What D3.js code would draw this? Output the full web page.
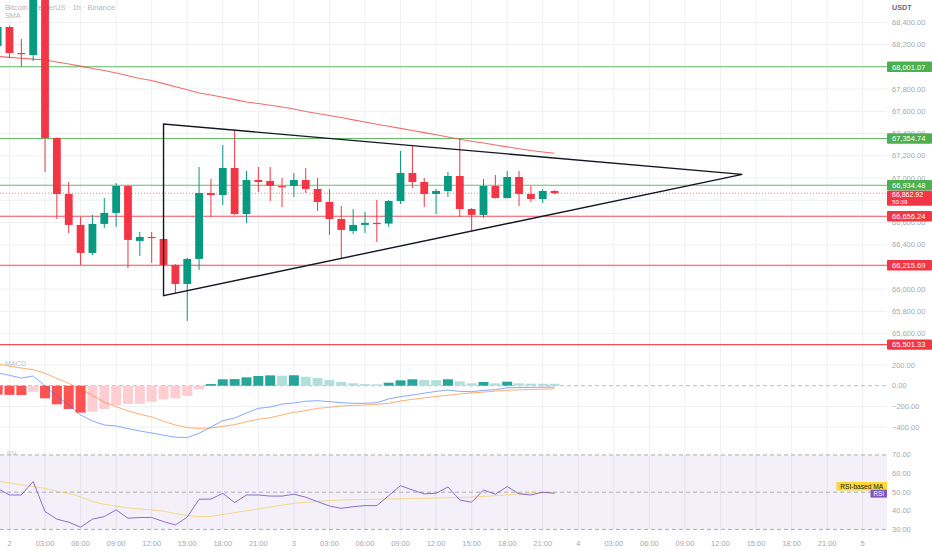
<!DOCTYPE html>
<html><head><meta charset="utf-8">
<script src="https://cdn.jsdelivr.net/npm/d3@7"></script>
<style>body{margin:0;background:#fff}svg{display:block;font-family:"Liberation Sans",Arial,sans-serif}</style>
</head><body><svg id="c" width="932" height="550"></svg>
<script>
// ---------- DATA (hours counted from day "2" 00:00) ----------
const hours = [-1,0,1,2,3,4,5,6,7,8,9,10,11,12,13,14,15,16,17,18,19,20,21,22,23,24,25,26,27,28,29,30,31,32,33,34,35,36,37,38,39,40,41,42,43,44,45,46];
const open  = [68187,68358,68124,68106,68680,67360,66856,66578,66326,66587,66686,66928,66434,66470,66452,66218,66047,66272,66865,66847,67090,66676,66982,66973,66928,66928,66982,66901,66784,66631,66524,66578,66596,66590,66793,67045,66964,66856,66883,67018,66721,66668,66928,66820,67009,66856,66811,66883];
const high  = [68380,68370,68250,68750,68720,67365,66964,66650,66668,66820,66955,66935,66515,66515,66506,66225,66281,67099,66991,67297,67432,67063,67099,67099,67000,67045,67090,67000,66901,66748,66721,66694,66802,66802,67243,67288,67000,66901,67054,67360,66730,66991,67027,67063,67063,66928,66901,66890];
const low   = [68150,68079,67998,68052,67054,66631,66506,66218,66308,66551,66560,66191,66299,66236,66210,65966,65714,66173,66650,66757,66668,66596,66874,66793,66739,66829,66865,66703,66488,66281,66497,66506,66425,66560,66766,66910,66739,66676,66829,66650,66524,66641,66815,66815,66748,66784,66775,66855];
const close = [68358,68124,68115,68680,67360,66856,66578,66326,66587,66686,66928,66443,66470,66461,66218,66047,66272,66865,66847,67090,66676,66982,66964,66928,66920,66982,66901,66784,66631,66533,66578,66596,66590,66793,67045,66964,66856,66883,67018,66721,66668,66928,66820,67009,66856,66811,66883,66862.92];
const sma   = [68093,68085,68077,68069,68061,68044,68025,68006,67985,67967,67944,67919,67895,67877,67849,67821,67793,67764,67746,67726,67705,67684,67670,67655,67639,67621,67598,67580,67562,67544,67523,67504,67484,67465,67446,67427,67408,67389,67369,67349,67331,67315,67297,67280,67263,67247,67234,67222];

const macdLine = [125,100,74,94,-3,-103,-186,-283,-341,-380,-389,-415,-438,-457,-479,-498,-502,-460,-399,-338,-312,-264,-219,-206,-177,-167,-150,-145,-154,-164,-170,-170,-164,-128,-106,-90,-72,-55,-42,-55,-58,-45,-38,-20,-18,-16,-15,-14];
const signalLine = [210,190,171,155,120,71,23,-32,-93,-160,-203,-244,-276,-302,-344,-380,-406,-412,-409,-393,-377,-348,-325,-309,-283,-257,-241,-219,-209,-196,-190,-186,-180,-170,-148,-132,-118,-104,-92,-80,-70,-62,-52,-44,-40,-36,-33,-31];
const histogram = [-86,-89,-90,-58,-122,-180,-225,-260,-251,-225,-186,-177,-176,-155,-132,-122,-99,-35,16,62,64,81,94,100,97,101,87,74,55,36,23,16,13,29,52,62,55,54,62,42,23,36,23,39,23,20,19,18];

const rsi   = [52,48.5,48.5,55.7,39.6,35.5,33.9,31.2,35.5,36.9,40.5,36,36.4,36.4,34.2,32.4,36.6,46.2,46.3,49.4,44.4,48.5,48.5,47.9,47.9,48.9,47.3,44.9,42.6,41.3,42.2,42.8,42.8,48.1,53.5,51.2,49.1,49.4,52.8,45.8,44.6,51.2,48.9,53.0,49.1,48.5,50.0,49.4];
const rsiMA = [56,55,54,53,52,50.5,49.4,47.5,45,43.5,42.5,41.6,41,40.5,39.8,38.5,37.5,36.8,37,38,39,40,41,42,43,44,44.6,45,45.5,45.8,46,46.1,46.2,46.3,46.5,46.6,46.7,46.8,47,47.1,47.3,47.7,48.1,48.6,49.1,49.6,49.7,49.7];

const tickHours  = [0,3,6,9,12,15,18,21,24,27,30,33,36,39,42,45,48,51,54,57,60,63,66,69,72];
const tickLabels = ["2","03:00","06:00","09:00","12:00","15:00","18:00","21:00","3","03:00","06:00","09:00","12:00","15:00","18:00","21:00","4","03:00","06:00","09:00","12:00","15:00","18:00","21:00","5"];
const priceTicks = [65600,65800,66000,66200,66400,66600,66800,67000,67200,67400,67600,67800,68000,68200,68400];
const macdTicks = [200,0,-200,-400];
const rsiTicks = [70,60,50,40,30];

const levelValues = [68001.07,67354.74,66934.48,66656.24,66215.69,65501.33];
const levelKinds  = ["sup","sup","sup","res","res","res"];
const lastPrice = 66862.92;
const countdown = "50:39";
// triangle drawing: [hour, price]
const triHours  = [13,13,61.84];
const triPrices = [67486,65942,67033];

// ---------- LAYOUT ----------
const svg = d3.select("#c");
const plotR = 887, axisX = 892;
const mainTop = 0, mainBot = 352, macdTop = 355, macdBot = 443, rsiTop = 446, rsiBot = 535;
const GREEN = "#089981", RED = "#f23645", GRID = "#eef0f4", AX = "#a6a9b1";

const x = d3.scaleLinear().domain([-0.8, 74.05]).range([0, plotR]);
const y = d3.scaleLinear().domain([65435, 68601]).range([mainBot, mainTop]);
const ym = d3.scaleLinear().domain([-554, 297]).range([macdBot, macdTop]);
const yr = d3.scaleLinear().domain([27, 74.8]).range([rsiBot, rsiTop]);

const defs = svg.append("defs");
defs.append("clipPath").attr("id","cm").append("rect").attr("x",0).attr("y",mainTop).attr("width",plotR).attr("height",mainBot-mainTop);
defs.append("clipPath").attr("id","cmacd").append("rect").attr("x",0).attr("y",macdTop).attr("width",plotR).attr("height",macdBot-macdTop);
defs.append("clipPath").attr("id","crsi").append("rect").attr("x",0).attr("y",rsiTop).attr("width",plotR).attr("height",rsiBot-rsiTop);

// grid
const grid = svg.append("g");
grid.selectAll("line.v").data(tickHours).enter().append("line")
  .attr("x1",d=>x(d)).attr("x2",d=>x(d)).attr("y1",0).attr("y2",rsiBot)
  .attr("stroke",GRID).attr("stroke-width",1);
grid.selectAll("line.h").data(priceTicks).enter().append("line")
  .attr("x1",0).attr("x2",plotR).attr("y1",d=>y(d)).attr("y2",d=>y(d))
  .attr("stroke",GRID).attr("stroke-width",1);
grid.selectAll("line.hm").data(macdTicks.filter(d=>d!==0)).enter().append("line")
  .attr("x1",0).attr("x2",plotR).attr("y1",d=>ym(d)).attr("y2",d=>ym(d))
  .attr("stroke",GRID).attr("stroke-width",1);

// header (behind the candles, as in the reference)
svg.append("text").attr("x",5).attr("y",7).attr("dominant-baseline","central")
  .attr("font-size",7.6).attr("fill","#b4b7bf").text("Bitcoin / TetherUS · 1h · Binance");
svg.append("text").attr("x",5).attr("y",15.5).attr("dominant-baseline","central")
  .attr("font-size",7.2).attr("fill","#b4b7bf").text("SMA");

// ---------- MAIN PANE ----------
const main = svg.append("g").attr("clip-path","url(#cm)");
main.selectAll("line.lvl").data(levelValues).enter().append("line")
  .attr("x1",0).attr("x2",plotR).attr("y1",d=>y(d)).attr("y2",d=>y(d))
  .attr("stroke",(d,i)=>levelKinds[i]==="sup"?"#66bb6a":"#ef4f5c").attr("stroke-width",1.1);
main.append("line").attr("x1",0).attr("x2",plotR).attr("y1",y(lastPrice)).attr("y2",y(lastPrice))
  .attr("stroke",RED).attr("stroke-width",0.8).attr("stroke-dasharray","1,2").attr("opacity",0.8);
main.append("path").datum(hours.map((h,i)=>[h,sma[i]]))
  .attr("d",d3.line().x(d=>x(d[0])).y(d=>y(d[1])))
  .attr("fill","none").attr("stroke","#ef5350").attr("stroke-width",1.1).attr("opacity",0.85);
const bw = 7.8;
const cg = main.selectAll("g.c").data(hours).enter().append("g");
cg.append("line").attr("x1",h=>x(h)).attr("x2",h=>x(h))
  .attr("y1",(h,i)=>y(high[i])).attr("y2",(h,i)=>y(low[i]))
  .attr("stroke",(h,i)=>close[i]>=open[i]?GREEN:RED).attr("stroke-width",1);
cg.append("rect").attr("x",h=>x(h)-bw/2).attr("width",bw)
  .attr("y",(h,i)=>y(Math.max(open[i],close[i])))
  .attr("height",(h,i)=>Math.max(1.2,Math.abs(y(open[i])-y(close[i]))))
  .attr("fill",(h,i)=>close[i]>=open[i]?GREEN:RED);
const tri = triHours.map((h,i)=>[x(h),y(triPrices[i])]);
main.append("path").attr("d","M"+tri[0]+"L"+tri[1]+"L"+tri[2]+"Z")
  .attr("fill","none").attr("stroke","#131722").attr("stroke-width",1.4).attr("stroke-linejoin","miter");

// price axis
const ly = y(lastPrice);
const lastTop = ly-2.6, lastH = 15.2;
svg.append("text").attr("x",axisX).attr("y",7.5).attr("dominant-baseline","central")
  .attr("font-size",7.2).attr("fill","#6a6d78").attr("font-weight","bold").text("USDT");
// ticks fully covered by the last-price label are hidden (as in the reference)
svg.selectAll("text.pt").data(priceTicks.filter(d=>!(y(d)>lastTop+2 && y(d)<lastTop+lastH-2))).enter().append("text")
  .attr("x",axisX).attr("y",d=>y(d)).attr("dominant-baseline","central")
  .attr("font-size",7.5).attr("fill",AX).text(d=>d3.format(",.2f")(d));
const lab = svg.selectAll("g.lb").data(levelValues).enter().append("g");
lab.append("rect").attr("x",plotR).attr("width",932-plotR).attr("y",d=>y(d)-5.2).attr("height",10.4)
  .attr("rx",1).attr("fill",(d,i)=>levelKinds[i]==="sup"?"#4caf50":RED);
lab.append("text").attr("x",axisX).attr("y",d=>y(d)+0.3).attr("dominant-baseline","central")
  .attr("font-size",7.5).attr("fill","#fff").text(d=>d3.format(",.2f")(d));
svg.append("rect").attr("x",plotR).attr("width",932-plotR).attr("y",lastTop).attr("height",lastH).attr("rx",1).attr("fill",RED);
svg.append("text").attr("x",axisX).attr("y",ly+1.4).attr("dominant-baseline","central")
  .attr("font-size",7).attr("fill","#fff").text(d3.format(",.2f")(lastPrice));
svg.append("text").attr("x",axisX).attr("y",ly+8.7).attr("dominant-baseline","central")
  .attr("font-size",6.2).attr("fill","#fff").text(countdown);

// ---------- MACD PANE ----------
const mp = svg.append("g").attr("clip-path","url(#cmacd)");
mp.append("line").attr("x1",0).attr("x2",plotR).attr("y1",ym(0)).attr("y2",ym(0))
  .attr("stroke","#b8bbc3").attr("stroke-dasharray","4,3").attr("stroke-width",1);
mp.selectAll("rect.h").data(hours).enter().append("rect")
  .attr("x",h=>x(h)-5).attr("width",10)
  .attr("y",(h,i)=>Math.min(ym(0),ym(histogram[i])))
  .attr("height",(h,i)=>Math.abs(ym(histogram[i])-ym(0)))
  .attr("fill",(h,i)=>{
    const v=histogram[i], p=i>0?histogram[i-1]:v;
    if(v>=0) return v>=p?"#26a69a":"#b2dfdb";
    return v<=p?"#ff5252":"#ffcdd2";
  });
mp.append("path").datum(hours.map((h,i)=>[h,macdLine[i]]))
  .attr("d",d3.line().x(d=>x(d[0])).y(d=>ym(d[1])))
  .attr("fill","none").attr("stroke","#2962ff").attr("stroke-width",1).attr("opacity",0.55);
mp.append("path").datum(hours.map((h,i)=>[h,signalLine[i]]))
  .attr("d",d3.line().x(d=>x(d[0])).y(d=>ym(d[1])))
  .attr("fill","none").attr("stroke","#ff6d00").attr("stroke-width",1).attr("opacity",0.55);
svg.append("text").attr("x",5).attr("y",363).attr("dominant-baseline","central")
  .attr("font-size",7.2).attr("fill","#c0c3ca").text("MACD");
svg.selectAll("text.mt").data(macdTicks).enter().append("text")
  .attr("x",axisX).attr("y",d=>ym(d)).attr("dominant-baseline","central")
  .attr("font-size",7.5).attr("fill",AX).text(d=>d3.format(".2f")(d).replace("-","\u2212"));

// ---------- RSI PANE ----------
const rp = svg.append("g").attr("clip-path","url(#crsi)");
rp.append("rect").attr("x",0).attr("width",plotR).attr("y",yr(70)).attr("height",yr(30)-yr(70))
  .attr("fill","#7e57c2").attr("opacity",0.09);
rp.selectAll("line.rd").data([70,50,30]).enter().append("line")
  .attr("x1",0).attr("x2",plotR).attr("y1",d=>yr(d)).attr("y2",d=>yr(d))
  .attr("stroke","#a9acb4").attr("stroke-dasharray","4,3").attr("stroke-width",1);
rp.append("path").datum(hours.map((h,i)=>[h,rsiMA[i]]))
  .attr("d",d3.line().x(d=>x(d[0])).y(d=>yr(d[1])))
  .attr("fill","none").attr("stroke","#f7c52b").attr("stroke-width",1).attr("opacity",0.55);
rp.append("path").datum(hours.map((h,i)=>[h,rsi[i]]))
  .attr("d",d3.line().x(d=>x(d[0])).y(d=>yr(d[1])))
  .attr("fill","none").attr("stroke","#7e57c2").attr("stroke-width",1).attr("opacity",0.85);
svg.append("text").attr("x",7).attr("y",453).attr("dominant-baseline","central")
  .attr("font-size",5.5).attr("fill","#c0c3ca").text("RSI");
svg.selectAll("text.rt").data(rsiTicks).enter().append("text")
  .attr("x",axisX).attr("y",d=>yr(d)).attr("dominant-baseline","central")
  .attr("font-size",7.5).attr("fill",AX).text(d=>d3.format(".2f")(d));
const maY = yr(rsiMA[rsiMA.length-1]) - 6.5, rsiY = yr(rsi[rsi.length-1]);
svg.append("rect").attr("x",836.5).attr("width",plotR-836.5).attr("y",maY-4.3).attr("height",8.6).attr("fill","#fdd835");
svg.append("text").attr("x",861.7).attr("y",maY+0.3).attr("text-anchor","middle").attr("dominant-baseline","central")
  .attr("font-size",6.6).attr("fill","#131722").text("RSI-based MA");
svg.append("rect").attr("x",870.5).attr("width",plotR-870.5).attr("y",rsiY-3.5).attr("height",7.8).attr("fill","#7e57c2");
svg.append("text").attr("x",878.7).attr("y",rsiY+0.5).attr("text-anchor","middle").attr("dominant-baseline","central")
  .attr("font-size",6.4).attr("fill","#fff").text("RSI");

// ---------- TIME AXIS ----------
svg.selectAll("text.xt").data(tickHours).enter().append("text")
  .attr("x",d=>x(d)).attr("y",543).attr("text-anchor","middle").attr("dominant-baseline","central")
  .attr("font-size",7.5).attr("fill",AX).text((d,i)=>tickLabels[i]);
</script></body></html>
